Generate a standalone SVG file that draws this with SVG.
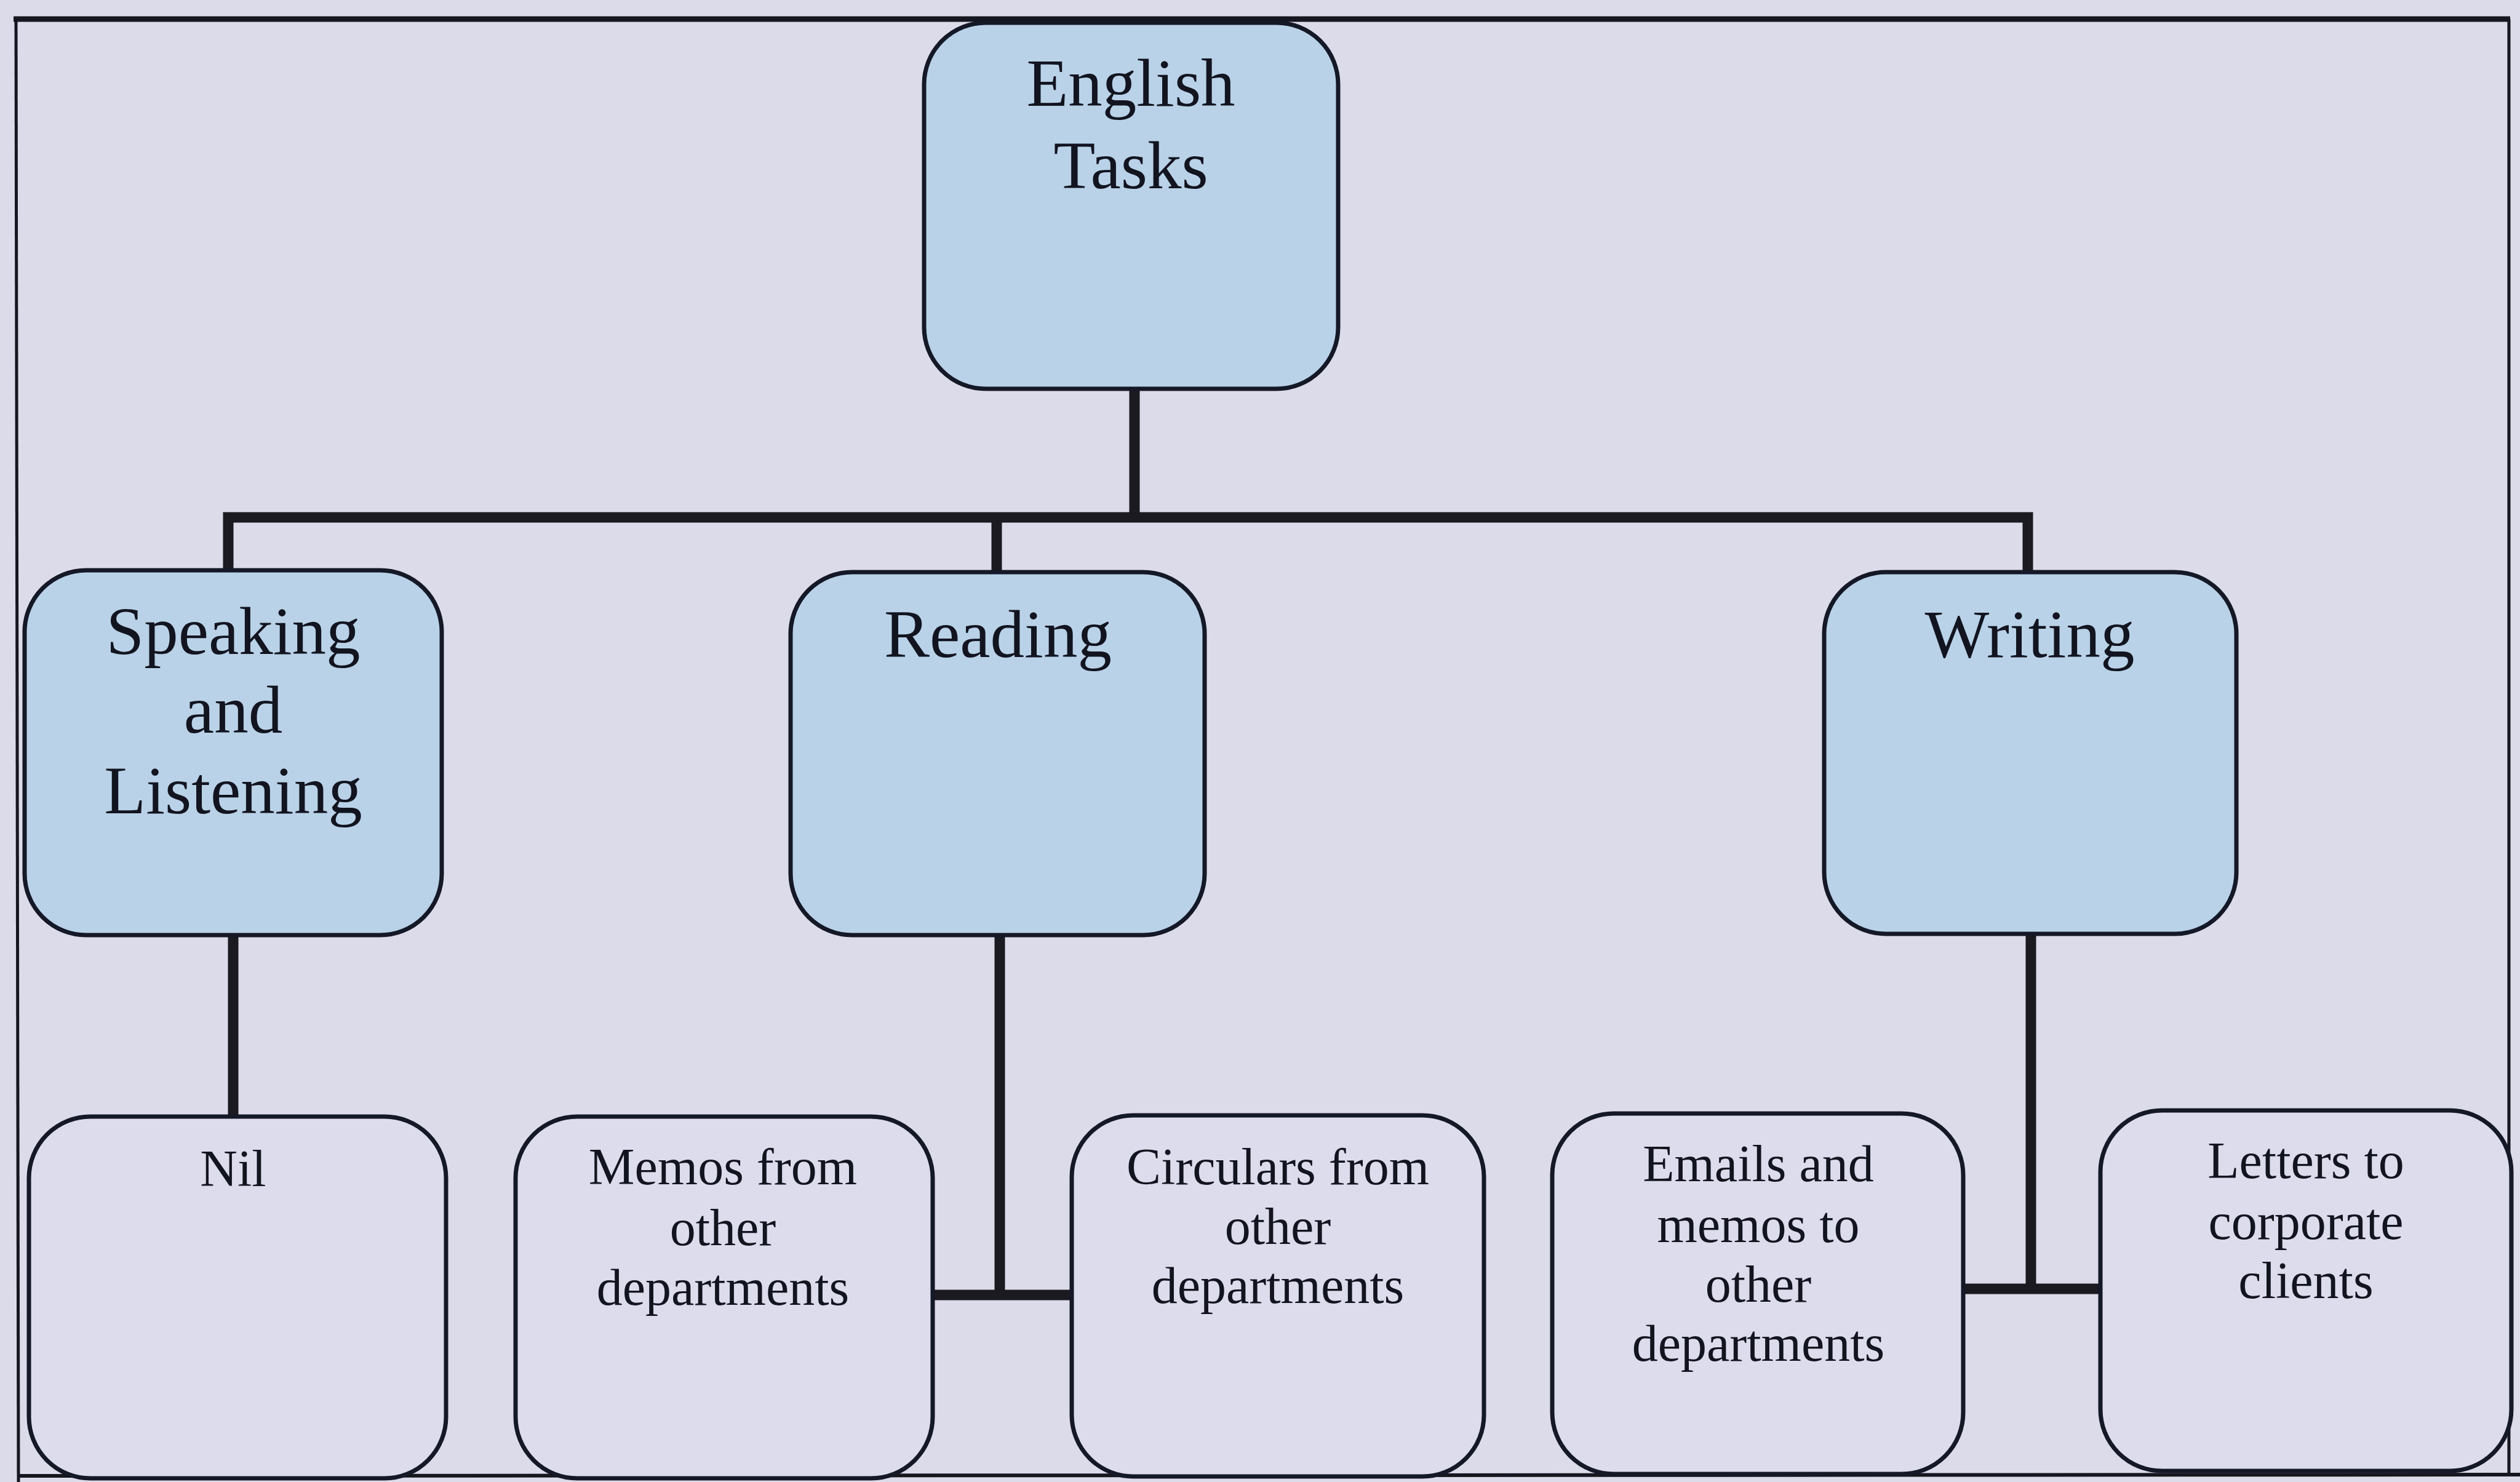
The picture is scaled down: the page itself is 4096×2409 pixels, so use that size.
<svg xmlns="http://www.w3.org/2000/svg" width="4096" height="2409" viewBox="0 0 4096 2409">
  <style>
    .bg { fill: #dcdbe9; }
    .frame { fill: none; stroke: #15161f; }
    .top { fill: #b9d2e8; stroke: #141827; stroke-width: 7; }
    .leaf { fill: #dcdcec; stroke: #141827; stroke-width: 7; }
    .conn { fill: none; stroke: #1a1a20; stroke-width: 17; stroke-linecap: butt; }
    .big { font-family: "Liberation Serif", "Times New Roman", serif; font-size: 111px; fill: #12141f; text-anchor: middle; }
    .small { font-family: "Liberation Serif", "Times New Roman", serif; font-size: 84px; fill: #12141f; text-anchor: middle; }
  </style>

  <!-- page background and outer frame -->
  <rect class="bg" x="0" y="0" width="4096" height="2409"/>
  <line class="frame" x1="22" y1="31" x2="4080" y2="31" stroke-width="9"/>
  <line class="frame" x1="26" y1="31" x2="30" y2="2409" stroke-width="5"/>
  <line class="frame" x1="4078" y1="31" x2="4078" y2="2400" stroke-width="5"/>
  <line class="frame" x1="28" y1="2399" x2="4096" y2="2397" stroke-width="6"/>

  <!-- connectors -->
  <g id="connectors">
    <line class="conn" x1="1844" y1="632" x2="1844" y2="841"/>
    <polyline class="conn" points="371,927 371,841 3296,841 3296,930"/>
    <line class="conn" x1="1620" y1="841" x2="1620" y2="930"/>
    <line class="conn" x1="379" y1="1520" x2="379" y2="1815"/>
    <line class="conn" x1="1625" y1="1520" x2="1625" y2="2105"/>
    <line class="conn" x1="1516" y1="2105" x2="1744" y2="2105"/>
    <line class="conn" x1="3301" y1="1518" x2="3301" y2="2095"/>
    <line class="conn" x1="3189" y1="2095" x2="3416" y2="2095"/>
  </g>

  <!-- root -->
  <g id="english-tasks">
    <rect class="top" x="1502" y="37" width="673" height="595" rx="100" ry="100"/>
    <text class="big" x="1838" y="172">English</text>
    <text class="big" x="1838" y="306">Tasks</text>
  </g>

  <!-- skill areas -->
  <g id="speaking-listening">
    <rect class="top" x="40" y="927" width="678" height="593" rx="100" ry="100"/>
    <text class="big" x="379" y="1063">Speaking</text>
    <text class="big" x="379" y="1191">and</text>
    <text class="big" x="379" y="1322">Listening</text>
  </g>
  <g id="reading">
    <rect class="top" x="1285" y="930" width="673" height="590" rx="100" ry="100"/>
    <text class="big" x="1622" y="1068">Reading</text>
  </g>
  <g id="writing">
    <rect class="top" x="2965" y="930" width="670" height="588" rx="100" ry="100"/>
    <text class="big" x="3299" y="1068">Writing</text>
  </g>

  <!-- tasks -->
  <g id="nil">
    <rect class="leaf" x="47" y="1815" width="678" height="588" rx="100" ry="100"/>
    <text class="small" x="379" y="1928">Nil</text>
  </g>
  <g id="memos">
    <rect class="leaf" x="838" y="1815" width="678" height="588" rx="100" ry="100"/>
    <text class="small" x="1175" y="1925">Memos from</text>
    <text class="small" x="1175" y="2024">other</text>
    <text class="small" x="1175" y="2121">departments</text>
  </g>
  <g id="circulars">
    <rect class="leaf" x="1742" y="1813" width="670" height="587" rx="100" ry="100"/>
    <text class="small" x="2077" y="1925">Circulars from</text>
    <text class="small" x="2077" y="2022">other</text>
    <text class="small" x="2077" y="2118">departments</text>
  </g>
  <g id="emails">
    <rect class="leaf" x="2523" y="1810" width="668" height="586" rx="100" ry="100"/>
    <text class="small" x="2858" y="1920">Emails and</text>
    <text class="small" x="2858" y="2019">memos to</text>
    <text class="small" x="2858" y="2116">other</text>
    <text class="small" x="2858" y="2212">departments</text>
  </g>
  <g id="letters">
    <rect class="leaf" x="3414" y="1805" width="668" height="586" rx="100" ry="100"/>
    <text class="small" x="3748" y="1915">Letters to</text>
    <text class="small" x="3748" y="2014">corporate</text>
    <text class="small" x="3748" y="2110">clients</text>
  </g>
</svg>
